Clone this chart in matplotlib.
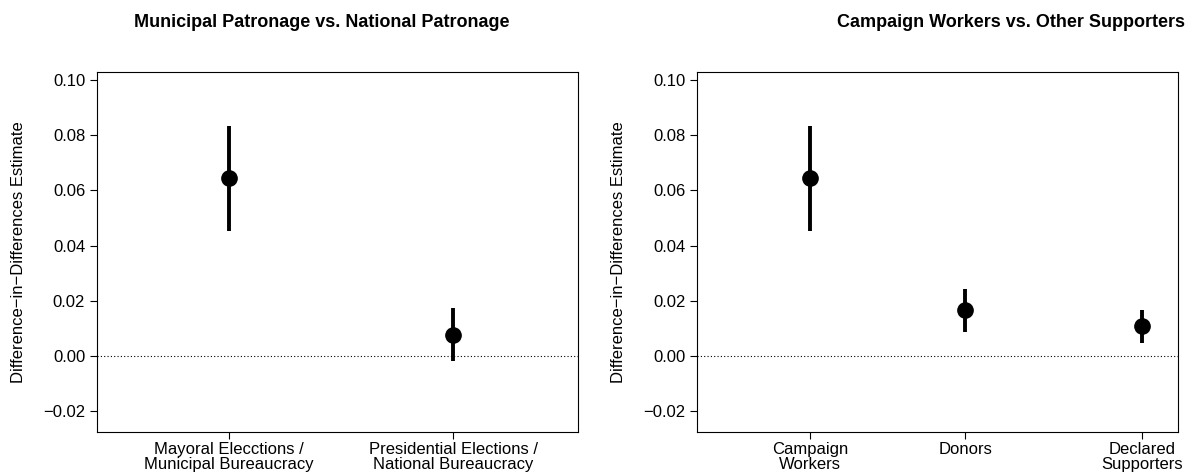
import matplotlib
matplotlib.use('Agg')
import matplotlib.pyplot as plt

plt.rcParams['font.family'] = ['Liberation Sans', 'DejaVu Sans']

left_labels = ['Mayoral Elecctions /\nMunicipal Bureaucracy', 'Presidential Elections /\nNational Bureaucracy']
left_est = [0.0643, 0.0075]
left_lo = [0.0452, -0.0020]
left_hi = [0.0835, 0.0172]

right_labels = ['Campaign\nWorkers', 'Donors', 'Declared\nSupporters']
right_est = [0.0643, 0.0165, 0.0108]
right_lo = [0.0452, 0.0088, 0.0045]
right_hi = [0.0835, 0.0244, 0.0168]

fig = plt.figure(figsize=(12.01, 4.72), dpi=100)
ax1 = fig.add_axes([0.0808, 0.0847, 0.4005, 0.7628])
ax2 = fig.add_axes([0.5804, 0.0847, 0.4005, 0.7628])

def panel(ax, labels, est, lo, hi, pos, xlim):
    for x, e, l, h in zip(pos, est, lo, hi):
        ax.plot([x, x], [l, h], color='black', lw=2.8, solid_capstyle='butt')
        ax.plot(x, e, 'o', color='black', ms=11)
    ax.axhline(0, color='black', lw=0.8, ls=(0, (1, 2)))
    ax.set_xlim(*xlim)
    ax.set_ylim(-0.0276, 0.1029)
    ax.set_yticks([-0.02, 0.0, 0.02, 0.04, 0.06, 0.08, 0.10])
    ax.set_yticklabels(['\u22120.02', '0.00', '0.02', '0.04', '0.06', '0.08', '0.10'])
    ax.set_xticks(pos)
    ax.set_xticklabels(labels, linespacing=1.0)
    ax.tick_params(labelsize=12, length=5)
    ax.tick_params(axis='x', pad=2)
    ax.set_ylabel('Difference\u2212in\u2212Differences Estimate', fontsize=12, labelpad=12)

panel(ax1, left_labels, left_est, left_lo, left_hi, [1, 2], (0.411, 2.558))
panel(ax2, right_labels, right_est, right_lo, right_hi, [1, 2, 3.14], (0.27, 3.37))

fig.text(0.268, 0.953, 'Municipal Patronage vs. National Patronage', ha='center', va='center', fontsize=13, fontweight='bold')
fig.text(0.842, 0.953, 'Campaign Workers vs. Other Supporters', ha='center', va='center', fontsize=13, fontweight='bold')

fig.savefig('out.png', dpi=100)
